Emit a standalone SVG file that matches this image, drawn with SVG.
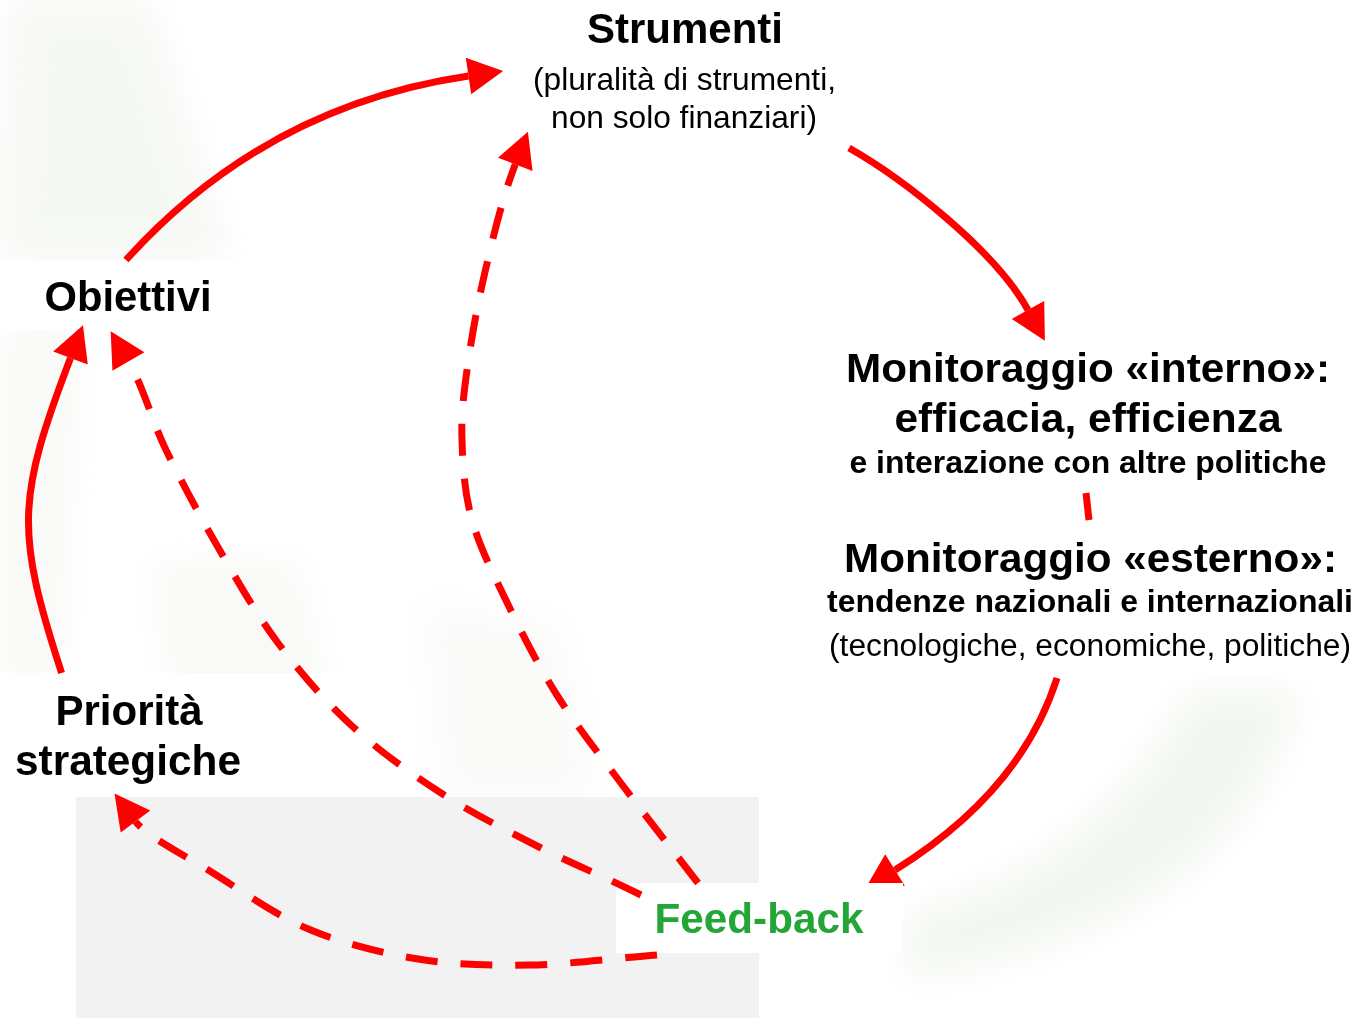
<svg xmlns="http://www.w3.org/2000/svg" width="1364" height="1018" viewBox="0 0 1364 1018">
<style>
.t{font-family:"Liberation Sans",Arial,sans-serif;fill:#000;text-anchor:middle}
.b{font-weight:700}
.box{fill:#fff}
.con{fill:none;stroke:#f00;stroke-width:7}
.dash{stroke-dasharray:32 23}
</style>
<defs>
<marker id="ah" markerUnits="userSpaceOnUse" markerWidth="36" markerHeight="37" refX="0" refY="18.5" orient="auto" overflow="visible">
<path d="M0,0 L35,18.5 L0,37 Z" fill="#f00"/>
</marker>
<filter id="blur" x="-30%" y="-30%" width="160%" height="160%"><feGaussianBlur stdDeviation="18"/></filter>
<clipPath id="clipFB"><path clip-rule="evenodd" d="M0,0H1364V1018H0Z M616,883H903V953H616Z"/></clipPath>
</defs>
<rect width="1364" height="1018" fill="#fff"/>
<g id="background" filter="url(#blur)" fill="#eaf0e6">
<path d="M10,0 L150,0 L230,260 L0,260 Z" opacity="0.45"/>
<path d="M0,330 L80,330 L60,680 L0,690 Z" opacity="0.35"/>
<path d="M150,560 L300,560 L330,700 L170,700 Z" opacity="0.3"/>
<path d="M420,600 L560,620 L600,800 L440,800 Z" opacity="0.25"/>
<path d="M1300,690 C1270,820 1170,935 910,980 L905,915 C1040,885 1140,790 1190,690 Z" opacity="0.55"/>
</g>
<rect id="grey-panel" x="76" y="797" width="683" height="221" fill="#f2f2f2"/>
<g id="node-strumenti">
<rect class="box" x="515" y="0" width="335" height="148"/>
<text class="t b" x="685" y="43" font-size="42" textLength="196" lengthAdjust="spacingAndGlyphs">Strumenti</text>
<text class="t" x="684.5" y="90" font-size="32" textLength="303" lengthAdjust="spacingAndGlyphs">(pluralità di strumenti,</text>
<text class="t" x="684" y="128" font-size="32" textLength="266" lengthAdjust="spacingAndGlyphs">non solo finanziari)</text>
</g>
<g id="node-obiettivi">
<rect class="box" x="0" y="260" width="240" height="70"/>
<text class="t b" x="128" y="311" font-size="42" textLength="167" lengthAdjust="spacingAndGlyphs">Obiettivi</text>
</g>
<g id="node-priorita">
<rect class="box" x="0" y="673" width="411" height="124"/>
<text class="t b" x="129" y="725" font-size="42" textLength="147" lengthAdjust="spacingAndGlyphs">Priorità</text>
<text class="t b" x="128" y="775" font-size="42" textLength="226" lengthAdjust="spacingAndGlyphs">strategiche</text>
</g>
<g id="node-monitoraggio">
<rect class="box" x="822" y="330" width="542" height="348"/>
<text class="t b" x="1088" y="382" font-size="41" textLength="484" lengthAdjust="spacingAndGlyphs">Monitoraggio «interno»:</text>
<text class="t b" x="1088" y="432" font-size="41" textLength="387" lengthAdjust="spacingAndGlyphs">efficacia, efficienza</text>
<text class="t b" x="1088" y="473" font-size="31" textLength="477" lengthAdjust="spacingAndGlyphs">e interazione con altre politiche</text>
<text class="t b" x="1090.5" y="572" font-size="41" textLength="493" lengthAdjust="spacingAndGlyphs">Monitoraggio «esterno»:</text>
<text class="t b" x="1090" y="612" font-size="31" textLength="526" lengthAdjust="spacingAndGlyphs">tendenze nazionali e internazionali</text>
<text class="t" x="1090" y="656" font-size="31" textLength="522" lengthAdjust="spacingAndGlyphs">(tecnologiche, economiche, politiche)</text>
</g>
<g id="node-feedback">
<rect class="box" x="616" y="883" width="287" height="70"/>
<text class="t b" x="759" y="933" font-size="42" textLength="209" lengthAdjust="spacingAndGlyphs" style="fill:#23a636">Feed-back</text>
</g>
<g id="connectors">
<path class="con" marker-end="url(#ah)" d="M126,260 Q265,106 468.5,76"/>
<path class="con" marker-end="url(#ah)" d="M849,148 C902,178 995,250 1028,310"/>
<path class="con" marker-end="url(#ah)" clip-path="url(#clipFB)" d="M1057,678 Q1021.2,791.3 895,870"/>
<path class="con" marker-end="url(#ah)" d="M61.6,673 C15.1,530.5 17.1,498.1 70.5,358"/>
<path class="con" d="M1086,493 L1089,520"/>
<path class="con dash" marker-end="url(#ah)" d="M641,895 C603,876 573.2,864.2 541,848 C508.8,831.8 472.5,813.3 441,793 C409.5,772.7 379.2,751 352,726 C324.8,701 300.2,672.5 278,643 C255.8,613.5 237.7,581.2 219,549 C200.3,516.8 181.1,481.25 166,450 C150.9,418.75 144.6,389.1 128.4,361.5"/>
<path class="con dash" marker-end="url(#ah)" d="M698,883 C673.2,850.8 646.9,817.7 623.5,786.5 C600.1,755.3 576.6,726 557.5,696 C538.4,666 523.25,635.8 509,606.5 C494.75,577.2 479.8,547.75 472,520 C464.2,492.25 462.8,465 462,440 C461.2,415 463.2,398 467,370 C470.8,342 477,306.3 485,272 C493,237.7 502,198.7 515.3,164.3"/>
<path class="con dash" marker-end="url(#ah)" d="M657,955 C614.5,958.3 569.3,964.3 529.5,965 C489.7,965.7 454.7,964.9 418,959 C381.3,953.1 343.7,943.8 309.5,929.5 C275.3,915.2 242,891 213,873 C184,855 146.3,835.9 135.5,821.5"/>
</g>
</svg>
